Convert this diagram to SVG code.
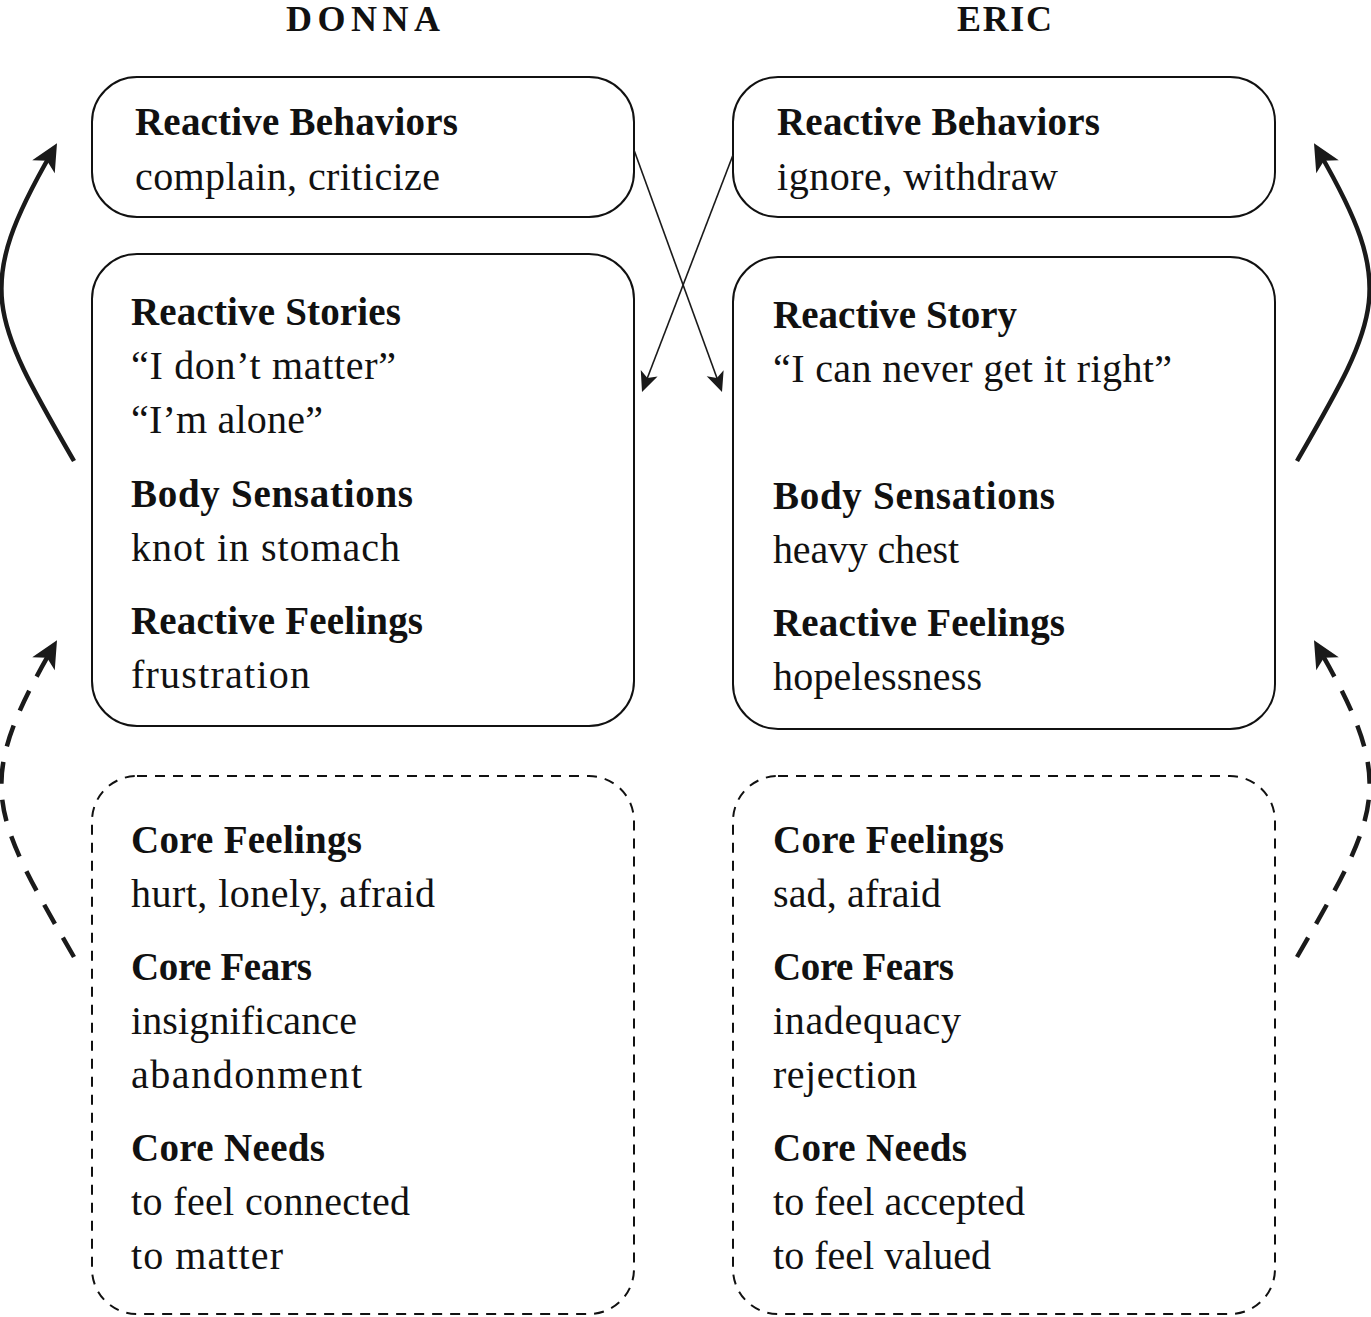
<svg xmlns="http://www.w3.org/2000/svg" width="1371" height="1317" viewBox="0 0 1371 1317">
<style>
text{font-family:"Liberation Serif","Times New Roman",serif;font-size:40px;fill:#111}
.h{font-weight:bold;font-size:39px}
.t{font-weight:bold;font-size:36px}
.box{fill:#fff;stroke:#111;stroke-width:2}
.dbox{fill:#fff;stroke:#111;stroke-width:2;stroke-dasharray:10 8}
.big{fill:none;stroke:#1a1a1a;stroke-width:4.5}
.dash{stroke-dasharray:22 16}
.thin{fill:none;stroke:#1a1a1a;stroke-width:1.6}
</style>
<defs>
<marker id="ah" markerUnits="userSpaceOnUse" markerWidth="60" markerHeight="60" viewBox="-30 -30 60 60" refX="0" refY="0" orient="auto">
<path d="M10,0 L-17,-13 L-10,0 L-17,13 Z" fill="#1a1a1a"/>
</marker>
<marker id="as" markerUnits="userSpaceOnUse" markerWidth="40" markerHeight="40" viewBox="-20 -20 40 40" refX="0" refY="0" orient="auto">
<path d="M5,0 L-15,-9 L-10,0 L-15,9 Z" fill="#1a1a1a"/>
</marker>
</defs>
<rect width="1371" height="1317" fill="#fff"/>
<g id="titles">
<text class="t" x="286" y="31" textLength="154">DONNA</text>
<text class="t" x="957" y="31" textLength="95">ERIC</text>
</g>
<g id="donna-behaviors">
<rect class="box" x="92" y="77" width="542" height="140" rx="45"/>
<text class="h" x="135" y="135" textLength="323">Reactive Behaviors</text>
<text x="135" y="190" textLength="305">complain, criticize</text>
</g>
<g id="eric-behaviors">
<rect class="box" x="733" y="77" width="542" height="140" rx="45"/>
<text class="h" x="777" y="135" textLength="323">Reactive Behaviors</text>
<text x="777" y="190" textLength="281">ignore, withdraw</text>
</g>
<g id="donna-reactive">
<rect class="box" x="92" y="254" width="542" height="472" rx="45"/>
<text class="h" x="131" y="325" textLength="270">Reactive Stories</text>
<text x="131" y="379" textLength="265">“I don’t matter”</text>
<text x="131" y="433" textLength="192">“I’m alone”</text>
<text class="h" x="131" y="507" textLength="282">Body Sensations</text>
<text x="131" y="561" textLength="269">knot in stomach</text>
<text class="h" x="131" y="634" textLength="292">Reactive Feelings</text>
<text x="131" y="688" textLength="179">frustration</text>
</g>
<g id="eric-reactive">
<rect class="box" x="733" y="257" width="542" height="472" rx="45"/>
<text class="h" x="773" y="328" textLength="244">Reactive Story</text>
<text x="773" y="382" textLength="399">“I can never get it right”</text>
<text class="h" x="773" y="509" textLength="282">Body Sensations</text>
<text x="773" y="563" textLength="186">heavy chest</text>
<text class="h" x="773" y="636" textLength="292">Reactive Feelings</text>
<text x="773" y="690" textLength="209">hopelessness</text>
</g>
<g id="donna-core">
<rect class="dbox" x="92" y="776" width="542" height="538" rx="45"/>
<text class="h" x="131" y="853" textLength="231">Core Feelings</text>
<text x="131" y="907" textLength="304">hurt, lonely, afraid</text>
<text class="h" x="131" y="980" textLength="181">Core Fears</text>
<text x="131" y="1034" textLength="226">insignificance</text>
<text x="131" y="1088" textLength="231">abandonment</text>
<text class="h" x="131" y="1161" textLength="194">Core Needs</text>
<text x="131" y="1215" textLength="279">to feel connected</text>
<text x="131" y="1269" textLength="152">to matter</text>
</g>
<g id="eric-core">
<rect class="dbox" x="733" y="776" width="542" height="538" rx="45"/>
<text class="h" x="773" y="853" textLength="231">Core Feelings</text>
<text x="773" y="907" textLength="168">sad, afraid</text>
<text class="h" x="773" y="980" textLength="181">Core Fears</text>
<text x="773" y="1034" textLength="188">inadequacy</text>
<text x="773" y="1088" textLength="144">rejection</text>
<text class="h" x="773" y="1161" textLength="194">Core Needs</text>
<text x="773" y="1215" textLength="252">to feel accepted</text>
<text x="773" y="1269" textLength="218">to feel valued</text>
</g>
<g id="connectors">
<path class="thin" d="M634,150 L720.3,387.3" marker-end="url(#as)"/>
<path class="thin" d="M733,155 L643.8,387.3" marker-end="url(#as)"/>
<path class="big" d="M74,461 C-9.5,316 -26.5,288 52,152" marker-end="url(#ah)"/>
<path class="big" d="M1297,461 C1380.5,316 1397.5,288 1319,152" marker-end="url(#ah)"/>
<path class="big dash" d="M74,957 C-9.5,812 -26.5,785 52,649" marker-end="url(#ah)"/>
<path class="big dash" d="M1297,957 C1380.5,812 1397.5,785 1319,649" marker-end="url(#ah)"/>
</g>
</svg>
